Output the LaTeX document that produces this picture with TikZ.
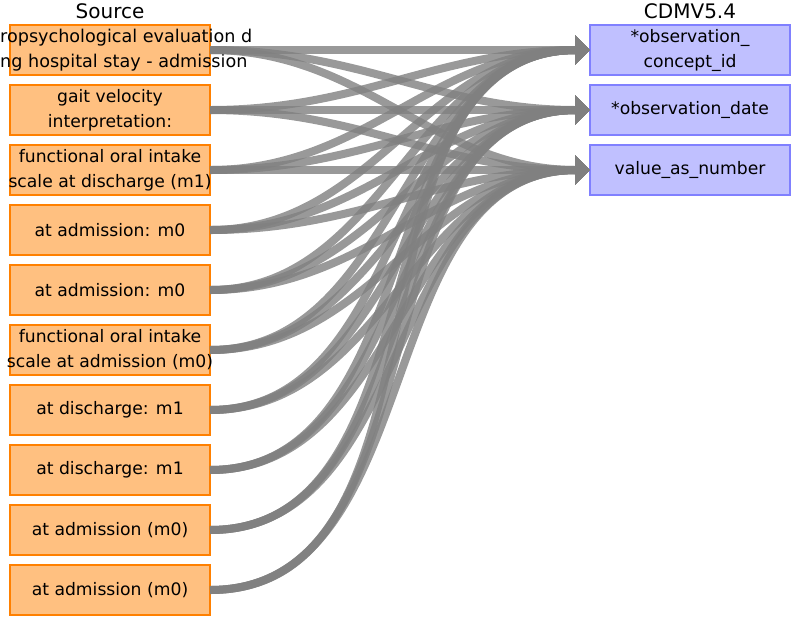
\documentclass[tikz,border=0pt]{standalone}
\usepackage{fontspec}
\setmainfont{DejaVu Sans}
\usepackage{xcolor}
\usepackage{tikz}
\usetikzlibrary{arrows.meta, positioning}
\definecolor{srcorange}{RGB}{255, 128, 0}
\definecolor{lightorange}{RGB}{255, 192, 128}
\definecolor{cdmblue}{RGB}{128, 128, 255}
\definecolor{lightblue}{RGB}{192, 192, 255}
\definecolor{linkgray}{RGB}{128, 128, 128}
\tikzstyle{srcbox} = [rectangle, draw=srcorange, fill=lightorange, line width=2pt, minimum width=200pt, minimum height=50pt, inner sep=0pt, outer sep=0pt, align=center, font=\fontsize{17.2}{25}\selectfont]
\tikzstyle{cdmbox} = [srcbox, draw=cdmblue, fill=lightblue]
\tikzstyle{header} = [font=\fontsize{20}{24}\selectfont]
\tikzstyle{link} = [-{Triangle[length=15pt, width=29pt]}, line width=8pt, draw=linkgray, opacity=0.8]

\begin{document}
\begin{tikzpicture}[x=1pt, y=-1pt]
    \useasboundingbox (0,0) rectangle (800,625);
    % Source column
    \node[header] (srchead) at (110,11) {Source};
    \node[srcbox] (s1) at (110,50) {};
    \node[anchor=west, align=left, inner sep=0pt, font=\fontsize{17.6}{25}\selectfont] (s1text) at (0,50) {ropsychological evaluation d\\ng hospital stay - admission};
    \node[srcbox] (s2) at (110,110) {gait velocity\\interpretation:};
    \node[srcbox] (s3) at (110,170) {functional oral intake\\\makebox[190pt]{scale at discharge (m1)}};
    \node[srcbox] (s4) at (110,230) {at admission: m0};
    \node[srcbox] (s5) at (110,290) {at admission: m0};
    \node[srcbox] (s6) at (110,350) {functional oral intake\\\makebox[190pt]{scale at admission (m0)}};
    \node[srcbox] (s7) at (110,410) {at discharge: m1};
    \node[srcbox] (s8) at (110,470) {at discharge: m1};
    \node[srcbox] (s9) at (110,530) {at admission (m0)};
    \node[srcbox] (s10) at (110,590) {at admission (m0)};

    % CDM column
    \node[header] (cdmhead) at (690,11) {CDMV5.4};
    \node[cdmbox] (t1) at (690,50) {*observation\_\\concept\_id};
    \node[cdmbox] (t2) at (690,110) {*observation\_date};
    \node[cdmbox] (t3) at (690,170) {value\_as\_number};

    % every source feeds every target
    \foreach \s in {1,...,10}
        \foreach \t in {1,2,3}
            \draw[link] (s\s.east) to[out=0, in=180] (t\t.west);
\end{tikzpicture}
\end{document}
